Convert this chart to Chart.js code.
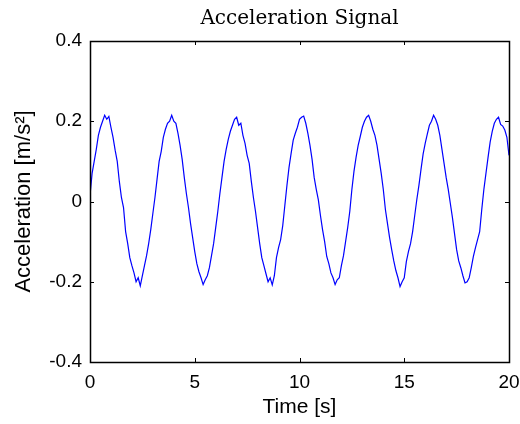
<!DOCTYPE html>
<html>
<head>
<meta charset="utf-8">
<script src="https://cdn.jsdelivr.net/npm/chart.js@4/dist/chart.umd.min.js"></script>
<style>
  html, body { margin: 0; padding: 0; background: #fff; }
  #wrap { width: 520px; height: 424px; }
</style>
</head>
<body>
<div id="wrap"><canvas id="myChart" width="520" height="424"></canvas></div>
<script>
const sampleStep = 0.1;
const accel = [
  0.015, 0.07, 0.10, 0.13, 0.165, 0.185, 0.20, 0.215, 0.205, 0.212,
  0.185, 0.16, 0.128, 0.10, 0.05, 0.01, -0.015, -0.075, -0.105, -0.14,
  -0.16, -0.178, -0.20, -0.19, -0.21, -0.185, -0.16, -0.135, -0.105, -0.07,
  -0.03, 0.01, 0.055, 0.10, 0.125, 0.16, 0.18, 0.195, 0.20, 0.215,
  0.20, 0.195, 0.17, 0.14, 0.105, 0.06, 0.02, -0.015, -0.055, -0.09,
  -0.125, -0.155, -0.175, -0.19, -0.207, -0.195, -0.185, -0.165, -0.135, -0.105,
  -0.065, -0.025, 0.02, 0.06, 0.10, 0.13, 0.155, 0.175, 0.19, 0.205,
  0.21, 0.19, 0.195, 0.165, 0.145, 0.115, 0.095, 0.05, 0.01, -0.025,
  -0.065, -0.105, -0.14, -0.16, -0.18, -0.20, -0.19, -0.208, -0.185, -0.14,
  -0.115, -0.095, -0.06, -0.01, 0.04, 0.085, 0.12, 0.153, 0.17, 0.185,
  0.205, 0.21, 0.213, 0.195, 0.17, 0.14, 0.105, 0.06, 0.03, 0.004,
  -0.035, -0.07, -0.10, -0.137, -0.155, -0.178, -0.19, -0.207, -0.195, -0.19,
  -0.16, -0.135, -0.10, -0.065, -0.025, 0.03, 0.075, 0.11, 0.14, 0.162,
  0.185, 0.20, 0.21, 0.215, 0.20, 0.18, 0.165, 0.14, 0.105, 0.07,
  0.03, -0.02, -0.055, -0.09, -0.12, -0.148, -0.172, -0.19, -0.212, -0.20,
  -0.19, -0.15, -0.125, -0.105, -0.075, -0.035, 0.005, 0.04, 0.08, 0.118,
  0.145, 0.168, 0.19, 0.20, 0.215, 0.205, 0.19, 0.165, 0.13, 0.095,
  0.06, 0.03, -0.005, -0.04, -0.08, -0.12, -0.148, -0.165, -0.185, -0.203,
  -0.20, -0.19, -0.165, -0.137, -0.115, -0.095, -0.075, -0.02, 0.03, 0.07,
  0.11, 0.148, 0.175, 0.195, 0.205, 0.21, 0.192, 0.188, 0.178, 0.16,
  0.115
];
const times = accel.map((_, i) => Math.round(i * sampleStep * 10) / 10);

const xTicks = [0, 5, 10, 15, 20];
const yTicks = [-0.4, -0.2, 0, 0.2, 0.4];

// kotak + tick ke dalam (gaya MATLAB)
const boxTicks = {
  id: 'boxTicks',
  afterDraw(chart) {
    const { ctx, chartArea: a, scales } = chart;
    const len = 4;
    ctx.save();
    ctx.strokeStyle = '#000';
    ctx.lineWidth = 1;
    ctx.beginPath();
    xTicks.forEach(v => {
      const px = Math.round(scales.x.getPixelForValue(v)) + 0.5;
      ctx.moveTo(px, a.bottom); ctx.lineTo(px, a.bottom - len);
      ctx.moveTo(px, a.top); ctx.lineTo(px, a.top + len);
    });
    yTicks.forEach(v => {
      const py = Math.round(scales.y.getPixelForValue(v)) + 0.5;
      ctx.moveTo(a.left, py); ctx.lineTo(a.left + len, py);
      ctx.moveTo(a.right, py); ctx.lineTo(a.right - len, py);
    });
    ctx.stroke();
    ctx.lineWidth = 1.5;
    ctx.strokeRect(Math.round(a.left) + 0.5, Math.round(a.top) + 0.5,
      Math.round(a.right - a.left), Math.round(a.bottom - a.top));
    ctx.restore();
  }
};

const ctx = document.getElementById('myChart').getContext('2d');
new Chart(ctx, {
  type: 'line',
  data: {
    datasets: [{
      data: times.map((t, i) => ({ x: t, y: accel[i] })),
      borderColor: '#0000ff',
      borderWidth: 1.2,
      pointRadius: 0,
      tension: 0,
      fill: false
    }]
  },
  options: {
    responsive: false,
    animation: false,
    layout: { padding: { left: 0, right: 11, top: 0, bottom: 0 } },
    plugins: {
      legend: { display: false },
      tooltip: { enabled: false },
      title: {
        display: true,
        text: 'Acceleration Signal',
        fullSize: false,
        color: '#000',
        font: { family: 'DejaVu Serif', size: 20, weight: 'normal', lineHeight: 1.2 },
        padding: { top: 7, bottom: 10 }
      }
    },
    scales: {
      x: {
        type: 'linear',
        min: 0, max: 20,
        afterBuildTicks: s => { s.ticks = xTicks.map(v => ({ value: v })); },
        afterFit: s => { s.height = 62; s.paddingRight = 0; s.paddingLeft = 0; },
        grid: { display: false, drawTicks: false },
        border: { display: false },
        ticks: {
          color: '#000', padding: 9, maxRotation: 0,
          font: { family: 'Liberation Sans', size: 19 }
        },
        title: {
          display: true, text: 'Time [s]', color: '#000',
          font: { family: 'Liberation Sans', size: 21 },
          padding: { top: 0, bottom: 4 }
        }
      },
      y: {
        min: -0.4, max: 0.4,
        afterBuildTicks: s => { s.ticks = yTicks.map(v => ({ value: v })); },
        afterFit: s => { s.width = 90; },
        grid: { display: false, drawTicks: false },
        border: { display: false },
        ticks: {
          color: '#000', padding: 8,
          font: { family: 'Liberation Sans', size: 19 },
          callback: v => String(Math.round(v * 10) / 10)
        },
        title: {
          display: true, text: 'Acceleration [m/s²]', color: '#000',
          font: { family: 'Liberation Sans', size: 22 },
          padding: { top: 11, bottom: 0 }
        }
      }
    }
  },
  plugins: [boxTicks]
});
</script>
</body>
</html>
